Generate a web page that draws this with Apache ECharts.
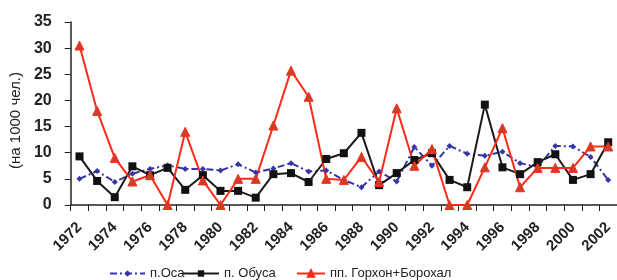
<!DOCTYPE html>
<html>
<head>
<meta charset="utf-8">
<script src="https://cdn.jsdelivr.net/npm/echarts@6/dist/echarts.min.js"></script>
<style>
  html, body { margin: 0; padding: 0; background: #fff; }
  #chart { width: 617px; height: 280px; }
</style>
</head>
<body>
<div id="chart"></div>
<script>
  // Years on the x axis
  const years = [];
  for (let y = 1972; y <= 2002; y++) years.push(String(y));

  // п.Оса
  const osa = [5, 6.5, 4.4, 6, 6.9, 7.6, 6.9, 6.9, 6.6, 7.8, 6.2, 7.0, 8.0, 6.4, 6.6, 4.8, 3.4, 6.4, 4.5, 11.1,
    7.5, 11.3, 9.8, 9.4, 10.2, 8.0, 7.3, 11.3, 11.2, 9.2, 4.8];
  // п. Обуса
  const obusa = [9.3, 4.6, 1.5, 7.4, 5.7, 7.1, 2.9, 5.7, 2.7, 2.7, 1.4, 5.9, 6.1, 4.4, 8.8, 9.9, 13.8, 3.8, 6.1, 8.6,
    9.9, 4.8, 3.4, 19.2, 7.2, 5.9, 8.2, 9.7, 4.8, 5.9, 12];
  // пп. Горхон+Борохал
  const gorkhon = [30.5, 18, 9, 4.5, 5.7, 0, 14, 4.7, 0, 5, 5, 15.2, 25.7, 20.7, 5, 4.8, 9.2, 4.4, 18.5, 7.5,
    10.7, 0, 0, 7.2, 14.7, 3.4, 7.1, 7.1, 7.1, 11.2, 11.2];

  const names = ['п.Оса', 'п. Обуса', 'пп. Горхон+Борохал'];

  const font = 'Liberation Sans, Arial, sans-serif';
  const chart = echarts.init(document.getElementById('chart'));

  // one legend per item so each sits where the original has it
  const legendAt = (name, left, w) => ({
    left: left,
    top: 262,
    itemWidth: w,
    itemHeight: 8,
    textStyle: { fontSize: 13, color: '#222', fontFamily: font },
    data: [name]
  });

  chart.setOption({
    animation: false,
    textStyle: { fontFamily: font },
    grid: { left: 70, top: 22, width: 552, bottom: 75 },
    legend: [
      legendAt(names[0], 104, 35),
      legendAt(names[1], 177, 36),
      legendAt(names[2], 291, 28)
    ],
    xAxis: {
      type: 'category',
      data: years,
      boundaryGap: true,
      axisLine: { lineStyle: { color: '#222', width: 1.5 } },
      axisTick: { show: true, interval: 0, length: 6, lineStyle: { color: '#222' } },
      axisLabel: {
        interval: 1,
        rotate: 45,
        margin: 20,
        fontSize: 15,
        fontWeight: 'bold',
        color: '#222'
      }
    },
    yAxis: {
      type: 'value',
      min: 0,
      max: 35,
      interval: 5,
      name: '(на 1000 чел.)',
      nameLocation: 'middle',
      nameGap: 38,
      nameTextStyle: { fontSize: 15, color: '#222', padding: [0, 14, 0, 0] },
      axisLine: { show: true, lineStyle: { color: '#222', width: 1.5 } },
      axisTick: { show: true, length: 6, lineStyle: { color: '#222' } },
      axisLabel: { fontSize: 16, fontWeight: 'bold', color: '#222', margin: 19 },
      splitLine: { show: false }
    },
    series: [
      {
        name: names[0],
        type: 'line',
        data: osa,
        symbol: 'diamond',
        symbolSize: 6,
        lineStyle: { color: '#3535a8', width: 2, type: [7, 3, 2, 3] },
        itemStyle: { color: '#3535a8' }
      },
      {
        name: names[1],
        type: 'line',
        data: obusa,
        symbol: 'rect',
        symbolSize: 8,
        lineStyle: { color: '#1a1a1a', width: 2 },
        itemStyle: { color: '#111' }
      },
      {
        name: names[2],
        type: 'line',
        data: gorkhon,
        symbol: 'triangle',
        symbolSize: 9,
        lineStyle: { color: '#ff2a18', width: 2 },
        itemStyle: { color: '#c8402c', borderColor: '#ff2a18', borderWidth: 1 }
      }
    ]
  });
</script>
</body>
</html>
